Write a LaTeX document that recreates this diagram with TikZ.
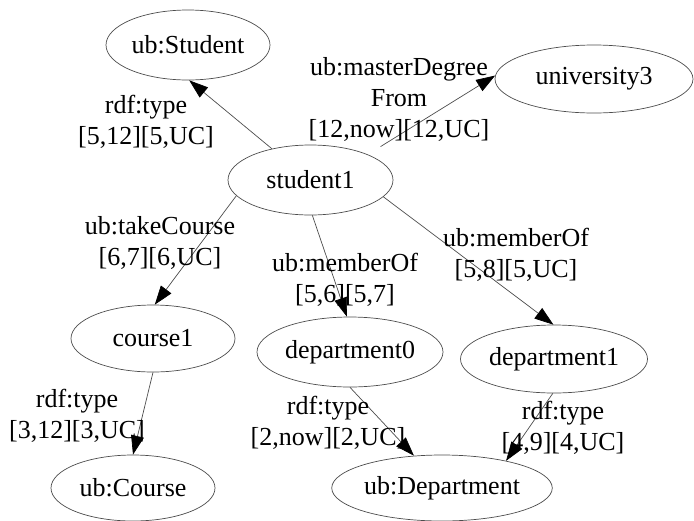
\documentclass[tikz,border=0pt]{standalone}
\usepackage{fontspec}
\setmainfont{Liberation Serif}
\usetikzlibrary{arrows.meta,shapes.geometric}
\begin{document}
\begin{tikzpicture}[x=1pt,y=-1pt,
  ent/.style={draw=black!70, line width=0.7pt, ellipse, inner sep=0pt, font=\fontsize{26}{31}\selectfont},
  lbl/.style={align=center, inner sep=0pt, font=\fontsize{26}{31}\selectfont},
  rel/.style={draw=black!70, line width=0.7pt, -{Triangle[length=19pt,width=13pt,color=black]}}]
\useasboundingbox (0,0) rectangle (694,520);
\node[ent, minimum width=164pt, minimum height=70pt] (stu) at (188,45) {ub:Student};
\node[ent, minimum width=198pt, minimum height=68pt] (u3) at (594,79) {university3};
\node[ent, minimum width=165pt, minimum height=70pt] (s1) at (310.5,180) {student1};
\node[ent, minimum width=164pt, minimum height=67pt] (c1) at (153,338.5) {course1};
\node[ent, minimum width=186pt, minimum height=70pt] (d0) at (350,352) {department0};
\node[ent, minimum width=187pt, minimum height=68pt] (d1) at (554,359) {department1};
\node[ent, minimum width=164pt, minimum height=66pt] (uc) at (133,488) {ub:Course};
\node[ent, minimum width=204pt, minimum height=66pt] (ud) at (442,488) {ub:Department};

\draw[rel] (s1.141) -- (stu.-88);
\draw[rel, shorten <=15pt] (s1.24) -- (u3.178);
\draw[rel] (s1.-168) -- (c1.87);
\draw[rel] (s1.-87) -- (d0.95);
\draw[rel] (s1.-13.5) -- (d1.91);
\draw[rel] (c1.-90) -- (uc.90);
\draw[rel] (d0.-90) -- (ud.131);
\draw[rel] (d1.-92) -- (ud.23);

\node[lbl] (l1) at (146,122) {rdf:type\\\relax[5,12][5,UC]};
\node[lbl] (l2) at (399,99) {ub:masterDegree\\From\\\relax[12,now][12,UC]};
\node[lbl] (l3) at (160,243) {ub:takeCourse\\\relax[6,7][6,UC]};
\node[lbl] (l4) at (345,280) {ub:memberOf\\\relax[5,6][5,7]};
\node[lbl] (l5) at (516,255) {ub:memberOf\\\relax[5,8][5,UC]};
\node[lbl] (l6) at (77,416) {rdf:type\\\relax[3,12][3,UC]};
\node[lbl] (l7) at (328,423) {rdf:type\\\relax[2,now][2,UC]};
\node[lbl] (l8) at (563,428) {rdf:type\\\relax[4,9][4,UC]};
\end{tikzpicture}
\end{document}
